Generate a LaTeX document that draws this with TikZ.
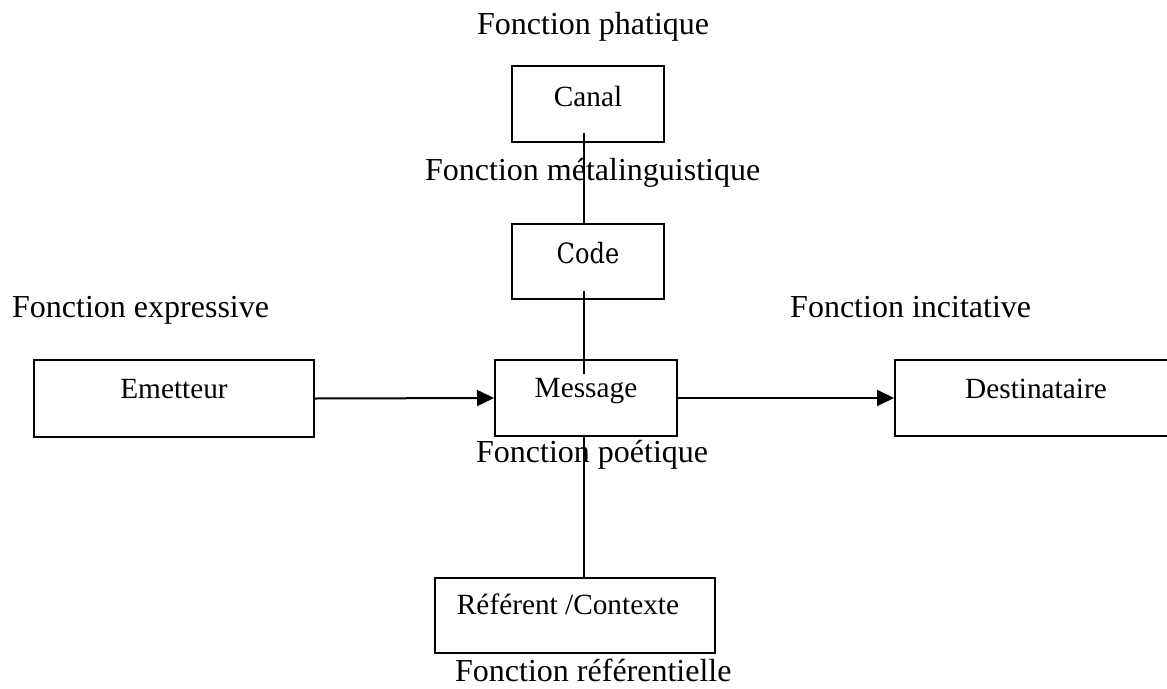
\documentclass[tikz,border=0pt]{standalone}
\usepackage{fontspec}
\setmainfont{Liberation Serif}
\newfontfamily\codefont[FakeStretch=0.86]{DejaVu Serif}
\usetikzlibrary{arrows.meta}

\tikzset{
  boxnode/.style={draw, line width=2pt, inner sep=0pt, anchor=north west,
    font=\fontsize{29.3}{34}\selectfont},
  fnlabel/.style={inner sep=0pt, anchor=base west,
    font=\fontsize{32}{38}\selectfont},
  link/.style={line width=2pt},
  arr/.style={line width=2pt, -{Triangle[length=17pt,width=16pt]}},
}

\begin{document}
\begin{tikzpicture}[x=1pt, y=-1pt]
\useasboundingbox (0,0) rectangle (1167,688);
\clip (0,0) rectangle (1167,688);

% boxes
\node[boxnode, minimum width=152pt, text height=40pt, text depth=36pt] (canal) at (511,65) {Canal};
\node[boxnode, minimum width=152pt, text height=39pt, text depth=36pt, font=\codefont\fontsize{28}{34}\selectfont] (code) at (511,223) {Code};
\node[boxnode, minimum width=280pt, text height=38pt, text depth=39pt] (emetteur) at (33,359) {Emetteur};
\node[boxnode, minimum width=182pt, text height=37pt, text depth=39pt] (message) at (494,359) {Message};
\node[boxnode, minimum width=282pt, text height=38pt, text depth=38pt] (destinataire) at (894,359) {Destinataire};
\node[boxnode, minimum width=280pt, text height=36pt, text depth=39pt] (referent) at (434,577) {Référent /Contexte\hspace*{14pt}};

% function labels
\node[fnlabel] (phatique) at (477,34) {Fonction phatique};
\node[fnlabel] (meta) at (425,180) {Fonction métalinguistique};
\node[fnlabel] (expressive) at (12,317) {Fonction expressive};
\node[fnlabel] (incitative) at (790,317) {Fonction incitative};
\node[fnlabel] (poetique) at (476,462) {Fonction poétique};
\node[fnlabel] (referentielle) at (455,681) {Fonction référentielle};

% vertical spine
\coordinate (s1) at (584,133);
\coordinate (s2) at (584,291);
\coordinate (s3) at (584,374);
\draw[link] (s1) -- (s1 |- code.north);
\draw[link] (s2) -- (s3);
\draw[link] (s1 |- message.south) -- (s1 |- referent.north);

% horizontal flow
\draw[arr] (emetteur.east) -- (message.west);
\draw[arr] (message.east) -- (destinataire.west);
\end{tikzpicture}
\end{document}
